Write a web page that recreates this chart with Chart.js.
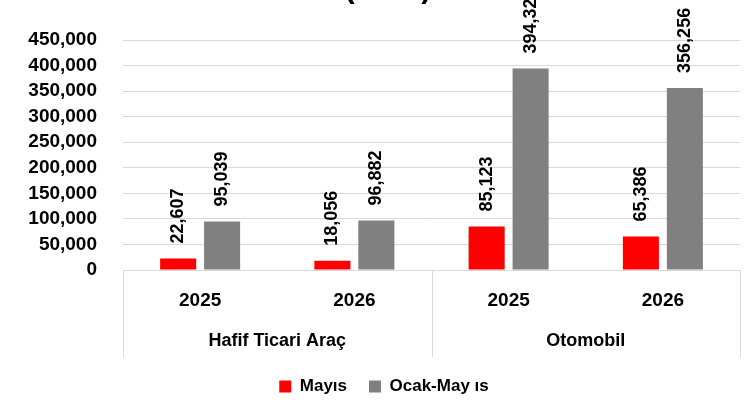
<!DOCTYPE html>
<html>
<head>
<meta charset="utf-8">
<script src="https://cdn.jsdelivr.net/npm/chart.js@4.4.0/dist/chart.umd.min.js"></script>
<style>
  html, body { margin: 0; padding: 0; background: #fff; overflow: hidden; }
  #wrap { width: 744px; height: 400px; }
</style>
</head>
<body>
<div id="wrap"><canvas id="chart" width="744" height="400"></canvas></div>
<script>
// Categories (year inside each vehicle group)
const years = ["2025", "2026", "2025", "2026"];
const groups = ["Hafif Ticari Araç", "Otomobil"];

// Series values
const mayis = [22607, 18056, 85123, 65386];
const ocakMayis = [95039, 96882, 394327, 356256];

// y axis ticks
const yMax = 450000;
const yStep = 50000;

const titleText = "(Adet)";
const FONT = "'Liberation Sans', Arial, sans-serif";

// rotated value labels above every bar
const valueLabels = {
  id: "valueLabels",
  afterDatasetsDraw(chart) {
    const ctx = chart.ctx;
    ctx.save();
    ctx.font = "bold 18px " + FONT;
    ctx.fillStyle = "#000";
    ctx.textAlign = "left";
    ctx.textBaseline = "middle";
    chart.data.datasets.forEach((ds, i) => {
      chart.getDatasetMeta(i).data.forEach((bar, j) => {
        ctx.save();
        ctx.translate(bar.x, bar.y - 15);
        ctx.rotate(-Math.PI / 2);
        ctx.fillText(ds.data[j].toLocaleString("en-US"), 0, 0);
        ctx.restore();
      });
    });
    ctx.restore();
  }
};

// group box lines under the axis + partly hidden title
const groupLines = {
  id: "groupLines",
  afterDraw(chart) {
    const ctx = chart.ctx;
    const x = chart.scales.x;
    const top = chart.chartArea.bottom;
    const bottom = chart.scales.x2.bottom + 1;
    ctx.save();
    ctx.strokeStyle = "#d9d9d9";
    ctx.lineWidth = 1;
    ctx.beginPath();
    ctx.moveTo(x.left, Math.round(top) + 0.5);
    ctx.lineTo(x.right, Math.round(top) + 0.5);
    [-0.5, 1.5, 3.5].forEach(v => {
      const px = Math.round(x.getPixelForValue(v)) + 0.5;
      ctx.moveTo(px, top);
      ctx.lineTo(px, bottom);
    });
    ctx.stroke();

    ctx.font = "bold 30px " + FONT;
    ctx.fillStyle = "#000";
    ctx.textAlign = "center";
    ctx.textBaseline = "alphabetic";
    ctx.fillText(titleText, 388, -2);
    ctx.restore();
  }
};

new Chart(document.getElementById("chart"), {
  type: "bar",
  data: {
    labels: years,
    datasets: [
      {
        label: "Mayıs",
        data: mayis,
        backgroundColor: "#ff0000",
        categoryPercentage: 0.57,
        barPercentage: 0.82
      },
      {
        label: "Ocak-May ıs",
        data: ocakMayis,
        backgroundColor: "#808080",
        categoryPercentage: 0.57,
        barPercentage: 0.82
      }
    ]
  },
  options: {
    responsive: false,
    animation: false,
    devicePixelRatio: 1,
    layout: { padding: { top: 40, left: 28, right: 4, bottom: -5 } },
    scales: {
      y: {
        min: 0,
        max: yMax,
        afterFit: s => { s.width = 95; },
        ticks: {
          stepSize: yStep,
          autoSkip: false,
          color: "#000",
          padding: 26,
          font: { family: FONT, size: 19, weight: "bold" },
          callback: v => v.toLocaleString("en-US")
        },
        grid: { color: "#d9d9d9", drawTicks: false },
        border: { display: false }
      },
      x: {
        grid: { display: false },
        border: { display: false },
        afterFit: s => { s.height = 42; },
        ticks: {
          color: "#000",
          padding: 11,
          maxRotation: 0,
          font: { family: FONT, size: 19, weight: "bold" }
        }
      },
      x2: {
        type: "category",
        labels: groups,
        position: "bottom",
        offset: true,
        grid: { display: false },
        border: { display: false },
        afterFit: s => { s.height = 44; },
        ticks: {
          color: "#000",
          padding: 10,
          maxRotation: 0,
          font: { family: FONT, size: 18, weight: "bold" }
        }
      }
    },
    plugins: {
      legend: {
        position: "bottom",
        labels: {
          color: "#000",
          boxWidth: 12,
          boxHeight: 12,
          padding: 22,
          font: { family: FONT, size: 17, weight: "bold" }
        }
      },
      tooltip: { enabled: false }
    }
  },
  plugins: [valueLabels, groupLines]
});
</script>
</body>
</html>
